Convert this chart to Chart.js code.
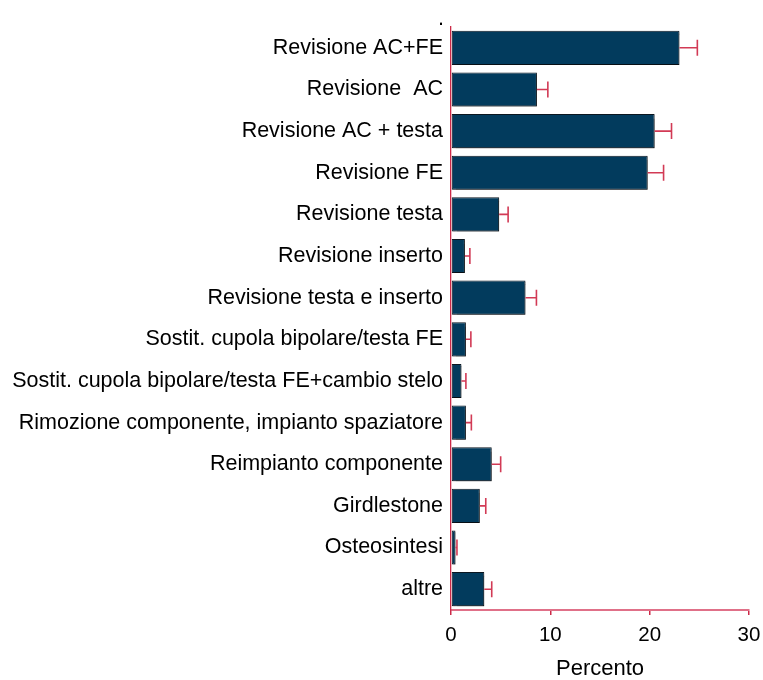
<!DOCTYPE html>
<html>
<head>
<meta charset="utf-8">
<script src="https://cdn.jsdelivr.net/npm/chart.js@4/dist/chart.umd.min.js"></script>
<style>
  html, body { margin: 0; padding: 0; background: #ffffff; }
  #wrap { width: 763px; height: 680px; position: relative; }
</style>
</head>
<body>
<div id="wrap"><canvas id="chart"></canvas></div>
<script>
// Tipologia di revisione: percentuale e limite superiore dell'intervallo di confidenza
const categories = [
  'Revisione AC+FE',
  'Revisione  AC',
  'Revisione AC + testa',
  'Revisione FE',
  'Revisione testa',
  'Revisione inserto',
  'Revisione testa e inserto',
  'Sostit. cupola bipolare/testa FE',
  'Sostit. cupola bipolare/testa FE+cambio stelo',
  'Rimozione componente, impianto spaziatore',
  'Reimpianto componente',
  'Girdlestone',
  'Osteosintesi',
  'altre'
];
const percent = [23.0, 8.65, 20.5, 19.8, 4.85, 1.4, 7.5, 1.5, 1.05, 1.5, 4.1, 2.9, 0.45, 3.35];
const upperCI = [24.8, 9.75, 22.2, 21.4, 5.75, 1.9, 8.6, 2.0, 1.5, 2.05, 5.0, 3.5, 0.6, 4.1];
const xTicks = [0, 10, 20, 30];

const FONT = 'Liberation Sans, Arial, sans-serif';
const BAR = '#023b5d';
const AXIS = '#cc2a48';

// Whiskers: from the end of each bar to the upper limit, with a vertical cap
const errorBars = {
  id: 'errorBars',
  afterDatasetsDraw(chart) {
    const ctx = chart.ctx;
    const xs = chart.scales.x;
    const meta = chart.getDatasetMeta(0);
    ctx.save();
    ctx.strokeStyle = '#d23a55';
    ctx.lineWidth = 1.6;
    meta.data.forEach((bar, i) => {
      const x0 = xs.getPixelForValue(percent[i]);
      const x1 = xs.getPixelForValue(upperCI[i]);
      const y = bar.y;
      ctx.beginPath();
      ctx.moveTo(x0, y);
      ctx.lineTo(x1, y);
      ctx.moveTo(x1, y - 8);
      ctx.lineTo(x1, y + 8);
      ctx.stroke();
    });
    ctx.restore();
  }
};

// Soft grey shadow under the bars
const barShadow = {
  id: 'barShadow',
  beforeDatasetsDraw(chart) {
    const ctx = chart.ctx;
    ctx.save();
    ctx.shadowColor = 'rgba(0,0,0,0.35)';
    ctx.shadowOffsetX = 1.5;
    ctx.shadowOffsetY = 1.5;
    ctx.shadowBlur = 1;
  },
  afterDatasetsDraw(chart) {
    chart.ctx.restore();
  }
};

// Small dot above the category labels
const topDot = {
  id: 'topDot',
  afterDraw(chart) {
    const ctx = chart.ctx;
    ctx.save();
    ctx.fillStyle = '#000';
    ctx.font = '21.5px ' + FONT;
    ctx.textAlign = 'right';
    ctx.textBaseline = 'alphabetic';
    ctx.fillText('.', chart.chartArea.left - 7, 25);
    ctx.restore();
  }
};

new Chart(document.getElementById('chart'), {
  type: 'bar',
  data: {
    labels: categories,
    datasets: [{
      data: percent,
      backgroundColor: BAR,
      borderColor: '#0b1620',
      borderWidth: 1,
      borderSkipped: false,
      categoryPercentage: 1,
      barPercentage: 0.82
    }]
  },
  options: {
    indexAxis: 'y',
    responsive: true,
    maintainAspectRatio: false,
    animation: false,
    layout: { padding: { top: 27, right: 14, bottom: 0, left: 0 } },
    plugins: {
      legend: { display: false },
      tooltip: { enabled: false },
      title: { display: false }
    },
    scales: {
      x: {
        type: 'linear',
        min: 0,
        max: 30,
        afterBuildTicks(scale) { scale.ticks = xTicks.map(v => ({ value: v })); },
        afterFit(scale) {
          scale.height = 70;
          scale.paddingLeft = 0;
          scale.paddingRight = 0;
        },
        grid: {
          display: true,
          drawOnChartArea: false,
          drawTicks: true,
          tickLength: 5,
          color: AXIS,
          lineWidth: 1.5
        },
        border: { display: true, color: '#e07088', width: 2 },
        ticks: {
          color: '#000',
          font: { family: FONT, size: 20.5 },
          padding: 8,
          maxRotation: 0
        },
        title: {
          display: true,
          text: 'Percento',
          color: '#000',
          font: { family: FONT, size: 22, lineHeight: 1 },
          padding: { top: 0, bottom: 0 }
        }
      },
      y: {
        type: 'category',
        afterFit(scale) {
          scale.width = 451;
          scale.paddingTop = 0;
          scale.paddingBottom = 0;
        },
        grid: { display: false, drawTicks: false },
        border: { display: true, color: AXIS, width: 1.3 },
        ticks: {
          color: '#000',
          font: { family: FONT, size: 21.5 },
          padding: 8,
          autoSkip: false
        }
      }
    }
  },
  plugins: [barShadow, errorBars, topDot]
});
</script>
</body>
</html>
